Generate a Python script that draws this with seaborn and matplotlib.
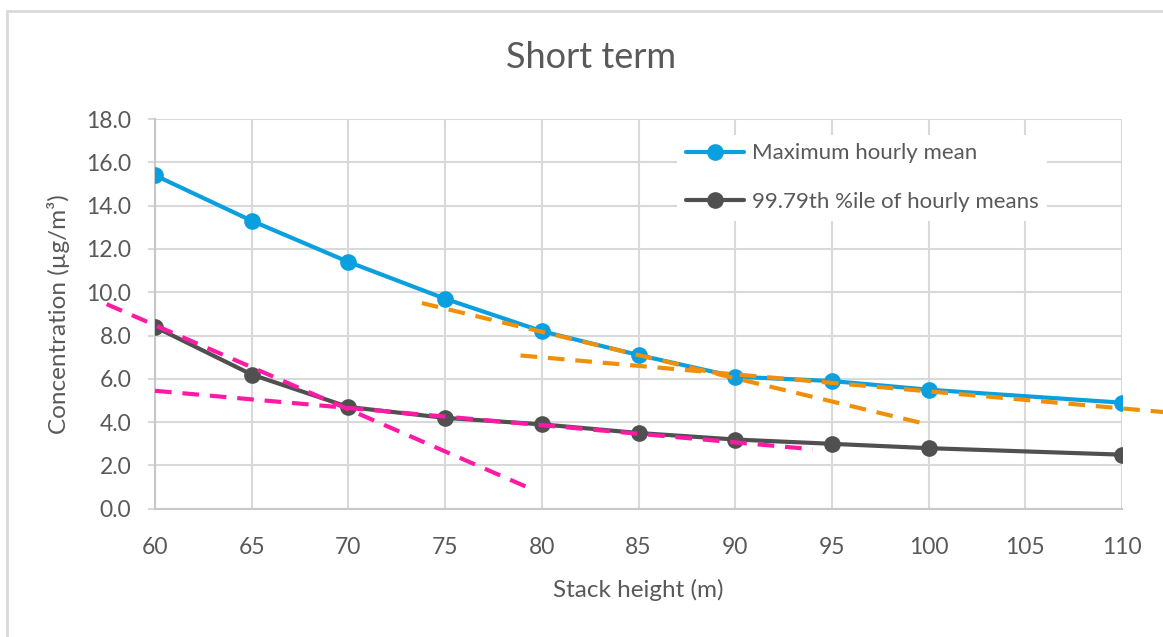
import numpy as np
import pandas as pd
import matplotlib
matplotlib.use("Agg")
import matplotlib.pyplot as plt
from matplotlib.lines import Line2D
import seaborn as sns

# data
stack_height = [60, 65, 70, 75, 80, 85, 90, 95, 100, 110]
max_hourly = [15.4, 13.3, 11.4, 9.7, 8.2, 7.1, 6.1, 5.9, 5.5, 4.9]
pct_9979 = [8.4, 6.2, 4.7, 4.2, 3.9, 3.5, 3.2, 3.0, 2.8, 2.5]

series_names = ["Maximum hourly mean", "99.79th %ile of hourly means"]
series_colors = ["#0AA0E0", "#505050"]

# hand-drawn trend lines (endpoints)
pink_steep_x = [57.5, 79.5]
pink_steep_y = [9.45, 0.9]
pink_flat_x = [60, 94]
pink_flat_y = [5.45, 2.75]
orange_steep_x = [73.8, 99.7]
orange_steep_y = [9.5, 3.95]
orange_flat_x = [78.9, 113]
orange_flat_y = [7.08, 4.4]

x_ticks = list(range(60, 111, 5))
y_ticks = list(np.arange(0, 18.1, 2))

df = pd.DataFrame({
    "height": stack_height * 2,
    "conc": max_hourly + pct_9979,
    "series": [series_names[0]] * len(stack_height) + [series_names[1]] * len(stack_height),
})

sns.set_theme(style="whitegrid")
plt.rcParams["font.family"] = ["Lato", "DejaVu Sans"]
text_col = "#595959"
grid_col = "#d9d9d9"

fig = plt.figure(figsize=(11.63, 6.37), dpi=100)
ax = fig.add_axes([155 / 1163, 1 - 508.8 / 637, 967 / 1163, 389.8 / 637])

sns.lineplot(data=df, x="height", y="conc", hue="series", palette=series_colors,
             marker="o", markersize=12, markeredgewidth=0, linewidth=3,
             ax=ax, legend=False, zorder=3)

# trend lines
dash = (4, 2.6)
for xs, ys, c in [(pink_steep_x, pink_steep_y, "#FF1AA6"),
                  (pink_flat_x, pink_flat_y, "#FF1AA6"),
                  (orange_steep_x, orange_steep_y, "#F0900A"),
                  (orange_flat_x, orange_flat_y, "#F0900A")]:
    ax.plot(xs, ys, color=c, lw=3, dashes=dash, clip_on=False, zorder=4)

ax.set_xlim(60, 110)
ax.set_ylim(0, 18)
ax.set_xticks(x_ticks)
ax.set_yticks(y_ticks)
ax.set_yticklabels([f"{v:.1f}" for v in y_ticks])
ax.grid(True, color=grid_col, linewidth=1.5)
ax.tick_params(axis="y", colors=grid_col, labelcolor=text_col, labelsize=16.5,
               length=5, width=1.5, direction="out", left=True, pad=12)
ax.tick_params(axis="x", labelcolor=text_col, labelsize=16.5, length=0, pad=20)
for s in ["top", "right"]:
    ax.spines[s].set_visible(False)
for s in ["left", "bottom"]:
    ax.spines[s].set_color("#c8c8c8")
    ax.spines[s].set_linewidth(1.5)

ax.set_xlabel("Stack height (m)", fontsize=17.5, color=text_col, labelpad=15)
ax.set_ylabel("Concentration (µg/m³)", fontsize=17.5, color=text_col, labelpad=12)

handles = [Line2D([0], [0], color=c, lw=3, marker="o", markersize=12, markeredgewidth=0)
           for c in series_colors]
leg = ax.legend(handles, series_names, loc="upper left", bbox_to_anchor=(0.54, 0.96),
                frameon=True, facecolor="white", edgecolor="none", framealpha=1,
                fontsize=16, labelcolor=text_col, handlelength=2.6, handletextpad=0.35,
                labelspacing=1.27, borderpad=0.4, borderaxespad=0)
leg.set_zorder(5)

fig.text(591 / 1163, 1 - 57.5 / 637, "Short term", ha="center", va="center",
         fontsize=26, color=text_col)

# chart border (top and left visible)
fig.add_artist(Line2D([7 / 1163, 7 / 1163], [0, 1 - 11 / 637], color=grid_col, lw=2))
fig.add_artist(Line2D([7 / 1163, 1], [1 - 11 / 637, 1 - 11 / 637], color=grid_col, lw=2))

fig.savefig("out.png", dpi=100)
